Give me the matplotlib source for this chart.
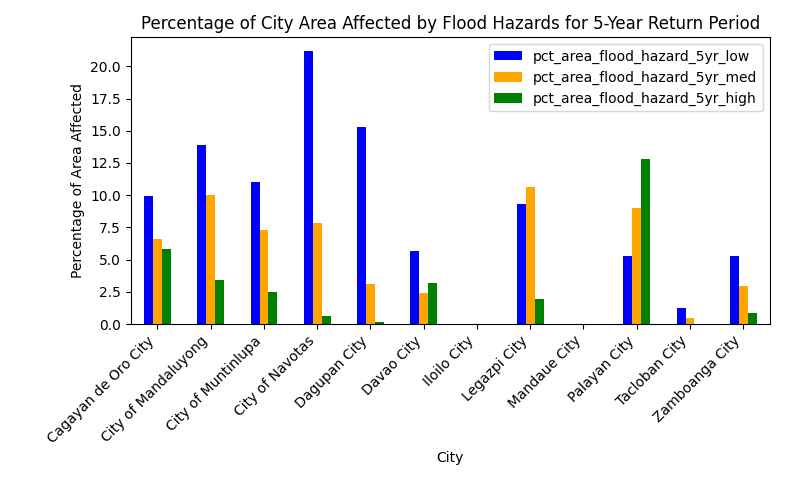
import matplotlib
matplotlib.use("Agg")
import matplotlib.pyplot as plt
import pandas as pd

cities = ["Cagayan de Oro City", "City of Mandaluyong", "City of Muntinlupa", "City of Navotas",
          "Dagupan City", "Davao City", "Iloilo City", "Legazpi City", "Mandaue City",
          "Palayan City", "Tacloban City", "Zamboanga City"]
low = [9.95, 13.91, 11.04, 21.22, 15.31, 5.67, 0.0, 9.33, 0.0, 5.28, 1.24, 5.28]
med = [6.61, 10.03, 7.31, 7.85, 3.11, 2.41, 0.0, 10.65, 0.0, 9.02, 0.47, 2.95]
high = [5.83, 3.42, 2.49, 0.62, 0.16, 3.19, 0.0, 1.94, 0.0, 12.82, 0.0, 0.85]

df = pd.DataFrame({
    "pct_area_flood_hazard_5yr_low": low,
    "pct_area_flood_hazard_5yr_med": med,
    "pct_area_flood_hazard_5yr_high": high,
}, index=pd.Index(cities, name="City"))

fig, ax = plt.subplots(figsize=(7.88, 4.8), dpi=100)
df.plot(kind="bar", ax=ax, color=["blue", "orange", "green"])
ax.set_title("Percentage of City Area Affected by Flood Hazards for 5-Year Return Period")
ax.set_xlabel("City")
ax.set_ylabel("Percentage of Area Affected")
plt.setp(ax.get_xticklabels(), rotation=45, ha="right")
ax.legend(loc="upper right")
fig.subplots_adjust(left=0.166, right=0.977, top=0.923, bottom=0.325)
fig.savefig("out.png", dpi=100)
